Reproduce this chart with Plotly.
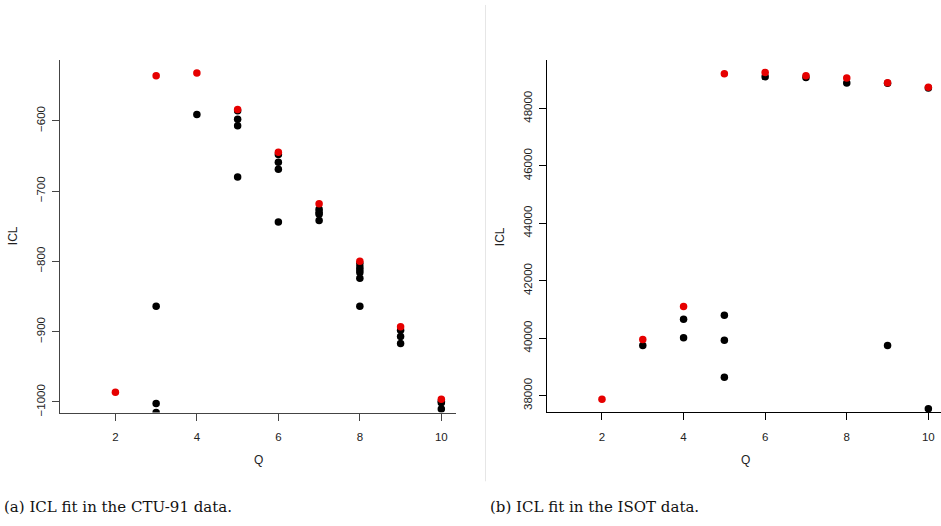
import plotly.graph_objects as go

W, H = 941, 526

# ---- data: CTU-91 (left) ----
ctu_black_q = [3, 3, 3, 4, 5, 5, 5, 5, 6, 6, 6, 6, 7, 7, 7, 7, 8, 8, 8, 8, 8, 8, 9, 9, 9, 10, 10, 10]
ctu_black_icl = [-864, -1002, -1015, -591, -586, -598, -607, -680, -648, -659, -669, -744,
                 -726, -730, -733, -742, -803, -808, -812, -816, -824, -864, -898, -907, -917,
                 -999, -1001, -1010]
ctu_red_q = [2, 3, 4, 5, 6, 7, 8, 9, 10]
ctu_red_icl = [-986, -536, -532, -584, -645, -718, -800, -893, -996]
ctu_yticks = [-600, -700, -800, -900, -1000]
ctu_yticktext = ["\u2212600", "\u2212700", "\u2212800", "\u2212900", "\u22121000"]

# ---- data: ISOT (right) ----
isot_black_q = [3, 4, 4, 5, 5, 5, 6, 7, 8, 9, 9, 10, 10]
isot_black_icl = [39743, 40662, 40020, 40800, 39925, 38637, 49105, 49081, 48885, 48874, 39743, 48712, 37540]
isot_red_q = [2, 3, 4, 5, 6, 7, 8, 9, 10]
isot_red_icl = [37876, 39955, 41100, 49209, 49254, 49140, 49057, 48898, 48736]
isot_yticks = [38000, 40000, 42000, 44000, 46000, 48000]
isot_yticktext = ["38000", "40000", "42000", "44000", "46000", "48000"]

xticks = [2, 4, 6, 8, 10]
xticktext = ["2", "4", "6", "8", "10"]

def px(x):
    return x / W

def py(y):
    return 1 - y / H

fig = go.Figure()
mk = 7.5
fig.add_trace(go.Scatter(x=ctu_black_q, y=ctu_black_icl, mode="markers",
                         marker=dict(color="black", size=mk), xaxis="x", yaxis="y"))
fig.add_trace(go.Scatter(x=ctu_red_q, y=ctu_red_icl, mode="markers",
                         marker=dict(color="#e60000", size=mk), xaxis="x", yaxis="y"))
fig.add_trace(go.Scatter(x=isot_black_q, y=isot_black_icl, mode="markers",
                         marker=dict(color="black", size=mk), xaxis="x2", yaxis="y2"))
fig.add_trace(go.Scatter(x=isot_red_q, y=isot_red_icl, mode="markers",
                         marker=dict(color="#e60000", size=mk), xaxis="x2", yaxis="y2"))

tickfont = dict(family="Liberation Sans, Arial, sans-serif", size=11.5, color="#222")
common_x = dict(showgrid=False, zeroline=False, showline=True, ticks="outside", ticklen=7,
                tickvals=xticks, ticktext=xticktext, tickfont=tickfont, tickwidth=1,
                ticklabelstandoff=7)
common_y = dict(showgrid=False, zeroline=False, showline=True, ticks="outside", ticklen=7,
                tickangle=-90, tickfont=tickfont, tickwidth=1, ticklabelstandoff=2)

fig.update_layout(
    width=W, height=H, margin=dict(l=0, r=0, t=0, b=0),
    paper_bgcolor="white", plot_bgcolor="white", showlegend=False,
    xaxis=dict(domain=[px(60), px(456)], range=[0.64, 10.36], anchor="y",
               linecolor="#444", tickcolor="#444", **common_x),
    yaxis=dict(domain=[py(415.7), py(60)], range=[-1015, -513], anchor="x",
               tickvals=ctu_yticks, ticktext=ctu_yticktext,
               linecolor="#444", tickcolor="#444", **common_y),
    xaxis2=dict(domain=[px(546.7), 1.0], range=[0.645, 10.31], anchor="y2",
                linecolor="black", tickcolor="black", **common_x),
    yaxis2=dict(domain=[py(415.3), py(60)], range=[37426, 49703], anchor="x2",
                tickvals=isot_yticks, ticktext=isot_yticktext,
                linecolor="black", tickcolor="black", **common_y),
)

lab = dict(family="Liberation Sans, Arial, sans-serif", size=12, color="#222")
cap = dict(family="DejaVu Serif, serif", size=15, color="#111")
annotations = [
    dict(text="ICL", x=px(13), y=py(238), textangle=-90, font=lab),
    dict(text="Q", x=px(258), y=py(464), font=lab),
    dict(text="ICL", x=px(500), y=py(238), textangle=-90, font=lab),
    dict(text="Q", x=px(745), y=py(464), font=lab),
]
for a in annotations:
    a.update(xref="paper", yref="paper", showarrow=False, xanchor="center", yanchor="middle")
annotations += [
    dict(text="(a) ICL fit in the CTU-91 data.", x=px(2), y=py(511), xref="paper", yref="paper",
         showarrow=False, xanchor="left", yanchor="middle", font=cap),
    dict(text="(b) ICL fit in the ISOT data.", x=px(488), y=py(511), xref="paper", yref="paper",
         showarrow=False, xanchor="left", yanchor="middle", font=cap),
]
fig.update_layout(annotations=annotations)

fig.add_shape(type="line", xref="paper", yref="paper", x0=px(485.5), x1=px(485.5),
              y0=py(5), y1=py(485), line=dict(color="#e6e6e6", width=1))

fig.write_html("out.html", config={"displayModeBar": False},
               post_script="document.body.style.margin='0';document.body.style.overflow='hidden';")
